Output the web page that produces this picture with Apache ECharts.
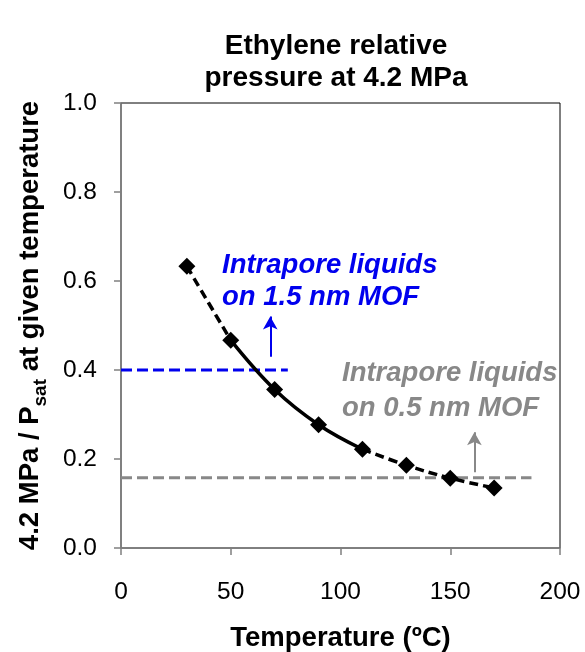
<!DOCTYPE html>
<html><head><meta charset="utf-8">
<script src="https://cdn.jsdelivr.net/npm/echarts@6/dist/echarts.min.js"></script>
<style>html,body{margin:0;padding:0;background:#fff}#c{width:585px;height:652px}</style>
</head><body><div id="c"></div>
<script>
const temps = [30, 50, 70, 90, 110, 130, 150, 170];
const ratio = [0.633, 0.467, 0.356, 0.277, 0.222, 0.186, 0.157, 0.135];
const xTicks = [0, 50, 100, 150, 200];
const yTicks = [0.0, 0.2, 0.4, 0.6, 0.8, 1.0];
const blueLine = [[0, 0.40], [76, 0.40]];
const grayLine = [[0, 0.158], [187, 0.158]];
const blueArrow = [[68, 0.43], [68, 0.52]];
const grayArrow = [[161, 0.17], [161, 0.26]];

function pts(i0, i1) { const a = []; for (let i = i0; i <= i1; i++) a.push([temps[i], ratio[i]]); return a; }

const chart = echarts.init(document.getElementById('c'));
const F = 'Liberation Sans, Arial, sans-serif';
const curve = (data, type, z) => ({
  type: 'line', data, smooth: 0.4, symbol: 'none', z,
  lineStyle: { color: '#000', width: 3.5, type: type }
});
chart.setOption({
  animation: false,
  title: {
    text: 'Ethylene relative\npressure at 4.2 MPa', left: 331, top: 25, textAlign: 'center',
    textStyle: { fontFamily: F, fontSize: 28, fontWeight: 'bold', color: '#000', lineHeight: 32 }
  },
  grid: { left: 121, right: 25, top: 103, bottom: 104, show: true, borderColor: '#000', borderWidth: 1, backgroundColor: 'transparent', outerBoundsMode: 'none', containLabel: false },
  xAxis: {
    type: 'value', min: 0, max: 200, interval: 50,
    name: 'Temperature (ºC)', nameLocation: 'middle', nameGap: 76,
    nameTextStyle: { fontFamily: F, fontSize: 27.5, fontWeight: 'bold', color: '#000' },
    axisLine: { show: true, onZero: false, lineStyle: { color: '#808080', width: 1.5 } },
    axisTick: { show: true, inside: false, length: 7, lineStyle: { color: '#808080', width: 1.5 } },
    axisLabel: { fontFamily: F, fontSize: 24.5, color: '#000', margin: 32, formatter: v => String(v) },
    splitLine: { show: false }
  },
  yAxis: {
    type: 'value', min: 0, max: 1, interval: 0.2,
    name: '{b|4.2 MPa / P}{s|sat}{b| at given temperature}', nameLocation: 'middle', nameGap: 77, nameRotate: 90,
    nameTextStyle: {
      rich: {
        b: { fontFamily: F, fontSize: 27.5, fontWeight: 'bold', color: '#000', lineHeight: 31, verticalAlign: 'bottom' },
        s: { fontFamily: F, fontSize: 19, fontWeight: 'bold', color: '#000', lineHeight: 19, verticalAlign: 'bottom', padding: [0, 0, -6, 0] }
      }
    },
    axisLine: { show: true, onZero: false, lineStyle: { color: '#808080', width: 1.5 } },
    axisTick: { show: true, inside: false, length: 7, lineStyle: { color: '#808080', width: 1.5 } },
    axisLabel: { fontFamily: F, fontSize: 24.5, color: '#000', margin: 24, formatter: v => v.toFixed(1) },
    splitLine: { show: false }
  },
  series: [
    { type: 'line', data: blueLine, symbol: 'none', lineStyle: { color: '#0000ee', width: 3, type: [11, 5] }, z: 1 },
    { type: 'line', data: grayLine, symbol: 'none', lineStyle: { color: '#888888', width: 3, type: [11, 5] }, z: 1 },
    curve(pts(0, 1), [9, 5], 2),
    curve(pts(1, 4), 'solid', 2),
    curve(pts(4, 7), [9, 5], 2),
    {
      type: 'scatter', data: pts(0, 7), symbol: 'diamond', symbolSize: [17, 17], z: 3,
      itemStyle: { color: '#000', opacity: 1 }
    },
    {
      type: 'line', data: [], z: 1,
      markLine: {
        silent: true, symbol: ['none', 'arrow'], symbolSize: [11, 13], label: { show: false },
        data: [
          [{ coord: blueArrow[0], lineStyle: { color: '#0000ee', width: 2, type: 'solid' } }, { coord: blueArrow[1] }],
          [{ coord: grayArrow[0], lineStyle: { color: '#888888', width: 2, type: 'solid' } }, { coord: grayArrow[1] }]
        ]
      }
    }
  ],
  graphic: [
    { type: 'text', left: 222, top: 249, style: { text: 'Intrapore liquids\non 1.5 nm MOF', fontFamily: F, fontSize: 27.5, fontWeight: 'bold', fontStyle: 'italic', fill: '#0000ee', lineHeight: 32 } },
    { type: 'text', left: 342, top: 356, style: { text: 'Intrapore liquids\non 0.5 nm MOF', fontFamily: F, fontSize: 27.5, fontWeight: 'bold', fontStyle: 'italic', fill: '#888888', lineHeight: 35 } }
  ]
});
</script></body></html>
